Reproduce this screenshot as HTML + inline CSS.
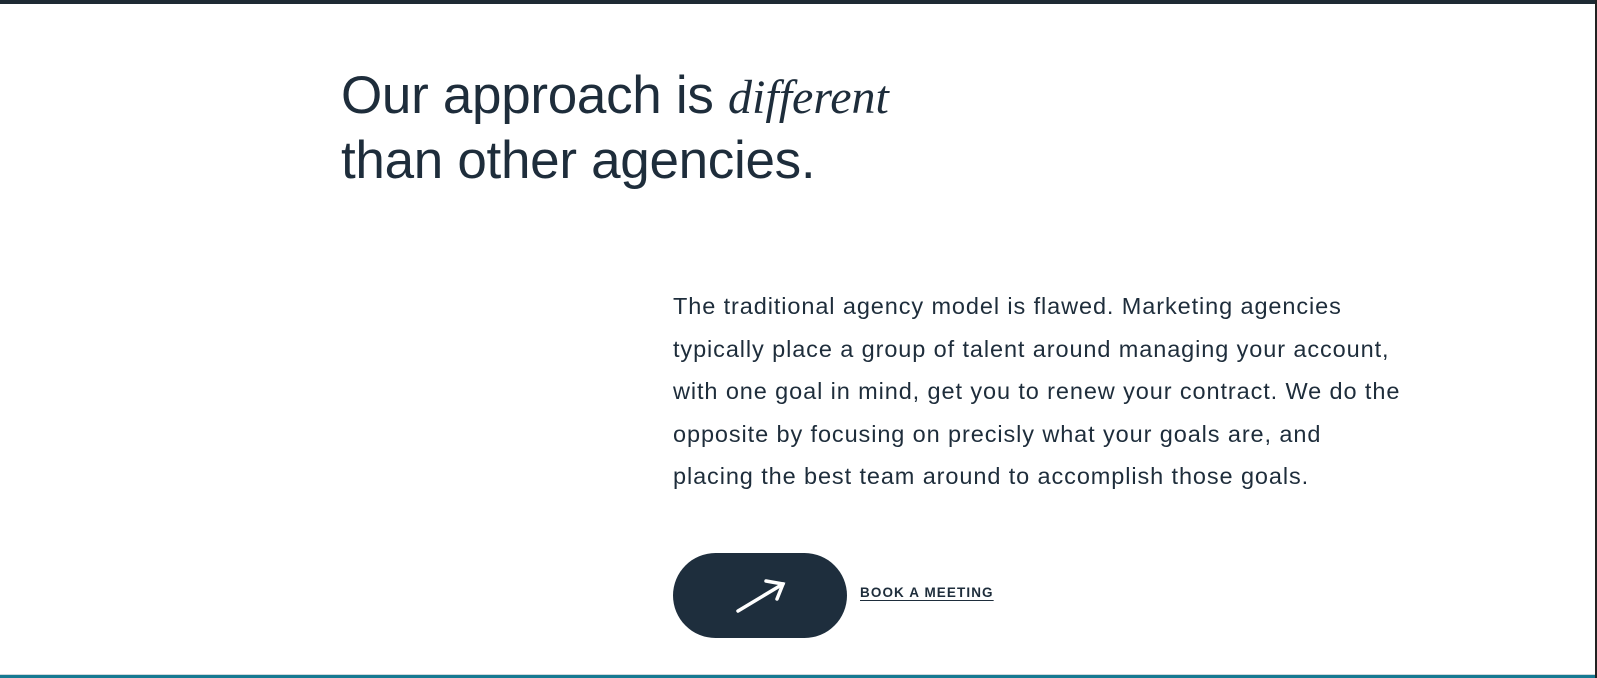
<!DOCTYPE html>
<html><head><meta charset="utf-8"><style>
html,body{margin:0;padding:0}
body{width:1597px;height:678px;position:relative;background:#fff;overflow:hidden;font-family:"Liberation Sans",sans-serif;color:#1e2d3b}
.top{position:absolute;left:0;top:0;width:1597px;height:4px;background:#1e2a33}
.right{position:absolute;right:0;top:0;width:2px;height:678px;background:#222}
.bot{position:absolute;left:0;bottom:0;width:1595px;height:3px;background:#167a92;border-top:1px solid #cfd8dc}
h1{position:absolute;left:341px;top:64px;margin:0;font-weight:400;font-size:53px;line-height:63px;letter-spacing:-0.3px;color:#1e2d3b;white-space:nowrap}
h1 em{font-family:"Liberation Serif",serif;font-size:48px;letter-spacing:0}
p{position:absolute;left:673px;top:285px;margin:0;font-size:23.5px;line-height:42.5px;letter-spacing:0.9px;color:#1e2d3b;white-space:nowrap}
.btn{position:absolute;left:673px;top:553px;width:174px;height:85px;border-radius:43px;background:#1e2e3d}
.link{position:absolute;left:860px;top:585px;font-size:13.5px;font-weight:bold;letter-spacing:1.1px;color:#1e2d3b;text-decoration:underline;text-underline-offset:3px}
</style></head><body>
<div class="top"></div>
<div class="right"></div>
<h1>Our approach is <em>different</em><br>than other agencies.</h1>
<p>The traditional agency model is flawed. Marketing agencies<br>typically place a group of talent around managing your account,<br>with one goal in mind, get you to renew your contract. We do the<br>opposite by focusing on precisly what your goals are, and<br>placing the best team around to accomplish those goals.</p>
<div class="btn">
<svg width="174" height="85"><g stroke="#fff" stroke-width="3.5" stroke-linecap="round" fill="none"><line x1="65" y1="58" x2="110" y2="31"/><polyline points="93,28 110,31 104,46"/></g></svg>
</div>
<span class="link">BOOK A MEETING</span>
<div class="bot"></div>
</body></html>
